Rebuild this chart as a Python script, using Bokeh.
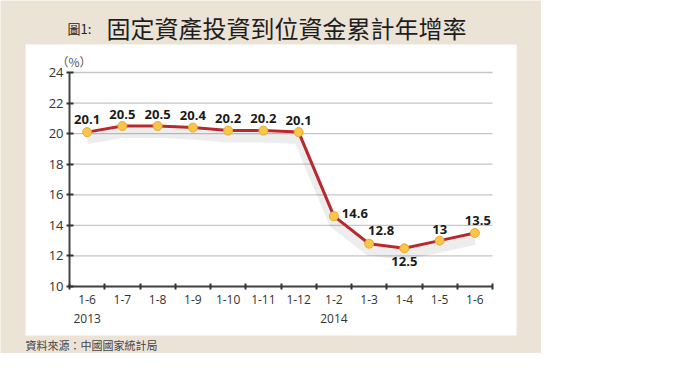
from bokeh.plotting import figure
from bokeh.models import Label, BoxAnnotation, FixedTicker, ColumnDataSource
from bokeh.transform import dodge
from bokeh.core.properties import value
from bokeh.embed import file_html
from bokeh.resources import INLINE

# ---- data ----
periods = ["1-6", "1-7", "1-8", "1-9", "1-10", "1-11", "1-12", "1-2", "1-3", "1-4", "1-5", "1-6"]
growth = [20.1, 20.5, 20.5, 20.4, 20.2, 20.2, 20.1, 14.6, 12.8, 12.5, 13, 13.5]
value_labels = ["20.1", "20.5", "20.5", "20.4", "20.2", "20.2", "20.1", "14.6", "12.8", "12.5", "13", "13.5"]
years = ["2013", "2014"]
year_start_index = [0, 7]
y_ticks = [10, 12, 14, 16, 18, 20, 22, 24]
title_main = "固定資產投資到位資金累計年增率"
title_prefix = "圖1:"
source_note = "資料來源：中國國家統計局"
unit_label = "（%）"

# ---- styles (label placement in screen px) ----
label_dx = [0, 0, 0, 0, 0, 0, 0, 21, 12, 0, 0, 3]
label_dy = [-13, -12, -12, -12, -12, -12, -12, -3, -13, 13, -11, -13]

W, H = 541, 353
BEIGE = "#ece3d7"
FONT = "Open Sans"
CJK = "Noto Sans CJK TC"

n = len(periods)
xs = list(range(n))
x_lo, x_hi = xs[0] - 0.5, xs[-1] + 0.5
y_lo, y_hi = y_ticks[0], y_ticks[-1]

# plot area inside the canvas (px): left, right, top, bottom
PL, PR, PT, PB = 69, 492, 72, 286
sx = (PR - PL) / (x_hi - x_lo)
sy = (PB - PT) / (y_hi - y_lo)
x_range = (x_lo - PL / sx, x_hi + (W - PR) / sx)
y_range = (y_lo - (H - PB) / sy, y_hi + PT / sy)

src = ColumnDataSource(dict(x=xs, y=growth, lab=value_labels, dx=label_dx, dy=label_dy))
grid_src = ColumnDataSource(dict(x0=[x_lo] * len(y_ticks), x1=[x_hi] * len(y_ticks), y=y_ticks))

p = figure(width=W, height=H, x_range=x_range, y_range=y_range,
           output_backend="svg", toolbar_location=None,
           min_border_left=0, min_border_right=0, min_border_top=0, min_border_bottom=0)
p.border_fill_color = BEIGE
p.background_fill_color = BEIGE
p.outline_line_color = None
p.grid.visible = False

# white panel behind chart (screen units: origin bottom-left of frame)
panel = BoxAnnotation(left=25, right=516, top=H - 44, bottom=H - 335,
                      left_units="screen", right_units="screen", top_units="screen", bottom_units="screen",
                      fill_color="white", fill_alpha=1.0, line_color=None, level="image")
p.add_layout(panel)

# horizontal grid lines
p.segment(x0="x0", x1="x1", y0="y", y1="y", source=grid_src, line_color="#c6c6c6", line_width=1.3)

# axes, fixed inside the frame
p.xaxis.fixed_location = y_lo
p.xaxis.bounds = (x_lo, x_hi)
p.xaxis.ticker = FixedTicker(ticks=xs, minor_ticks=[i + 0.5 for i in range(-1, n)])
p.xaxis.major_label_overrides = {i: periods[i] for i in xs}
p.xaxis.major_tick_line_color = None
p.xaxis.minor_tick_line_color = "#333333"
p.xaxis.minor_tick_line_width = 2
p.xaxis.minor_tick_in = 3
p.xaxis.minor_tick_out = 3
p.xaxis.axis_line_color = "#444444"
p.xaxis.axis_line_width = 2
p.xaxis.major_label_text_font = FONT
p.xaxis.major_label_text_font_size = "12px"
p.xaxis.major_label_text_color = "#333333"
p.xaxis.major_label_standoff = 2

p.yaxis.fixed_location = x_lo
p.yaxis.bounds = (y_lo, y_hi)
p.yaxis.ticker = FixedTicker(ticks=y_ticks)
p.yaxis.minor_tick_line_color = None
p.yaxis.major_tick_line_color = "#333333"
p.yaxis.major_tick_line_width = 2
p.yaxis.major_tick_in = 4
p.yaxis.major_tick_out = 3
p.yaxis.axis_line_color = "#444444"
p.yaxis.axis_line_width = 2
p.yaxis.major_label_text_font = FONT
p.yaxis.major_label_text_font_size = "13px"
p.yaxis.major_label_text_color = "#333333"
p.yaxis.major_label_standoff = 3

# shadow, line, markers
p.line(x="x", y=dodge("y", -0.45, range=p.y_range), source=src, line_color="#000000",
       line_alpha=0.07, line_width=10, line_join="round")
p.line(x="x", y="y", source=src, line_color="#b8282d", line_width=3, line_join="round")
p.scatter(x="x", y="y", source=src, size=9, fill_color="#f7c64a", line_color="#e9a932", line_width=1)

p.text(x="x", y="y", text="lab", source=src, x_offset="dx", y_offset="dy",
       text_font=value(FONT), text_font_style="bold", text_font_size="13px",
       text_color="#1a1a1a", text_align="center", text_baseline="middle")

# year labels under x axis
for yr, idx in zip(years, year_start_index):
    p.add_layout(Label(x=idx, y=H - 318, x_units="data", y_units="screen", text=yr,
                       text_font=FONT, text_font_size="12px", text_color="#333333",
                       text_align="center", text_baseline="middle"))

# unit label
p.add_layout(Label(x=56, y=H - 61, x_units="screen", y_units="screen", text=unit_label,
                   text_font=CJK, text_font_size="12px", text_color="#555555",
                   text_align="left", text_baseline="middle"))

# title
p.add_layout(Label(x=67, y=H - 28, x_units="screen", y_units="screen", text=title_prefix,
                   text_font=CJK, text_font_size="13px", text_color="#222222",
                   text_align="left", text_baseline="middle"))
p.add_layout(Label(x=106, y=H - 27, x_units="screen", y_units="screen", text=title_main,
                   text_font=CJK, text_font_size="24px", text_color="#1e1e1e",
                   text_align="left", text_baseline="middle"))

# source note
p.add_layout(Label(x=25, y=H - 344, x_units="screen", y_units="screen", text=source_note,
                   text_font=CJK, text_font_size="11px", text_color="#444444",
                   text_align="left", text_baseline="middle"))

open("out.html", "w").write(file_html(p, INLINE))
